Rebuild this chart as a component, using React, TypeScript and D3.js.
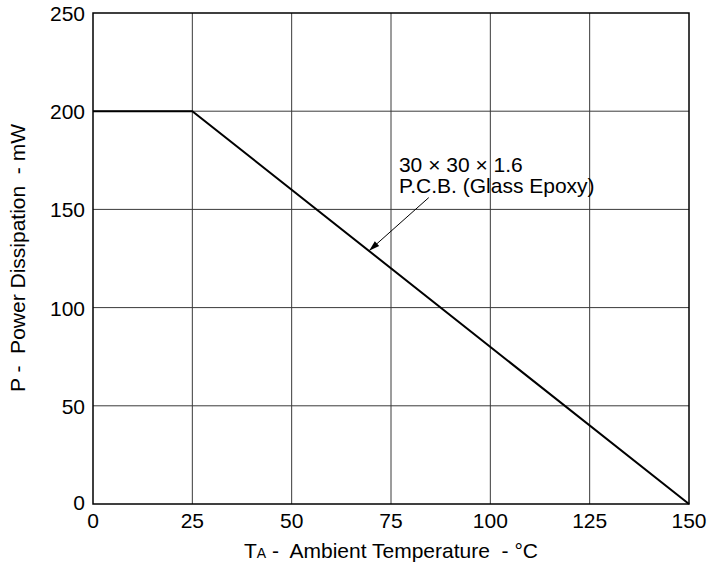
import React, { useEffect, useRef } from 'react'
import * as d3 from 'd3'

const tempPoints = [0, 25, 150]
const powerPoints = [200, 200, 0]
const xTicks = [0, 25, 50, 75, 100, 125, 150]
const yTicks = [0, 50, 100, 150, 200, 250]
const noteLines = ['30 × 30 × 1.6', 'P.C.B. (Glass Epoxy)']
const arrowFrom = { x: 84.5, y: 156 }
const arrowTo = { x: 69.5, y: 129 }

export default function App() {
  const svgRef = useRef<SVGSVGElement>(null)
  const width = 710
  const height = 577

  useEffect(() => {
    if (!svgRef.current) return
    const svg = d3.select(svgRef.current)
    svg.selectAll('*').remove()

    const margin = { top: 13, right: 21, bottom: 73, left: 93 }
    const chartWidth = width - margin.left - margin.right
    const chartHeight = height - margin.top - margin.bottom
    const font = 'Arial, "Liberation Sans", Helvetica, sans-serif'
    const fs = '21px'

    const g = svg.append('g').attr('transform', `translate(${margin.left},${margin.top})`)

    const x = d3.scaleLinear().domain([0, 150]).range([0, chartWidth])
    const y = d3.scaleLinear().domain([0, 250]).range([chartHeight, 0])

    // grid
    g.selectAll('.gx')
      .data(xTicks.slice(1, -1))
      .enter()
      .append('line')
      .attr('x1', d => x(d))
      .attr('x2', d => x(d))
      .attr('y1', 0)
      .attr('y2', chartHeight)
      .attr('stroke', '#3a3a3a')
      .attr('stroke-width', 1)
    g.selectAll('.gy')
      .data(yTicks.slice(1, -1))
      .enter()
      .append('line')
      .attr('x1', 0)
      .attr('x2', chartWidth)
      .attr('y1', d => y(d))
      .attr('y2', d => y(d))
      .attr('stroke', '#3a3a3a')
      .attr('stroke-width', 1)

    // frame
    g.append('rect')
      .attr('width', chartWidth)
      .attr('height', chartHeight)
      .attr('fill', 'none')
      .attr('stroke', '#000')
      .attr('stroke-width', 1.5)

    // tick labels
    g.selectAll('.xt')
      .data(xTicks)
      .enter()
      .append('text')
      .attr('x', d => x(d))
      .attr('y', chartHeight + 24)
      .attr('text-anchor', 'middle')
      .style('font-family', font)
      .style('font-size', fs)
      .text(d => d)
    g.selectAll('.yt')
      .data(yTicks)
      .enter()
      .append('text')
      .attr('x', -8)
      .attr('y', d => y(d) + (d === 0 ? 6 : 8))
      .attr('text-anchor', 'end')
      .style('font-family', font)
      .style('font-size', fs)
      .text(d => d)

    // curve
    const pts = tempPoints.map((t, i) => [t, powerPoints[i]] as [number, number])
    g.append('path')
      .datum(pts)
      .attr('d', d3.line<[number, number]>().x(d => x(d[0])).y(d => y(d[1])))
      .attr('fill', 'none')
      .attr('stroke', '#000')
      .attr('stroke-width', 2)

    // annotation
    const note = g.append('text')
      .style('font-family', font)
      .style('font-size', fs)
    noteLines.forEach((line, i) => {
      note.append('tspan')
        .attr('x', x(77))
        .attr('y', y(200) + 61 + i * 21)
        .text(line)
    })

    const ax1 = x(arrowFrom.x), ay1 = y(arrowFrom.y)
    const ax2 = x(arrowTo.x), ay2 = y(arrowTo.y)
    g.append('line')
      .attr('x1', ax1).attr('y1', ay1)
      .attr('x2', ax2).attr('y2', ay2)
      .attr('stroke', '#000')
      .attr('stroke-width', 1)
    const ang = Math.atan2(ay2 - ay1, ax2 - ax1)
    const len = 11, spread = 0.3
    g.append('path')
      .attr('d', `M${ax2},${ay2}L${ax2 - len * Math.cos(ang - spread)},${ay2 - len * Math.sin(ang - spread)}L${ax2 - len * Math.cos(ang + spread)},${ay2 - len * Math.sin(ang + spread)}Z`)
      .attr('fill', '#000')

    // axis titles
    const xt = svg.append('text')
      .attr('x', margin.left + chartWidth / 2)
      .attr('y', 558)
      .attr('text-anchor', 'middle')
      .style('font-family', font)
      .style('font-size', fs)
      .style('white-space', 'pre')
    xt.append('tspan').text('T')
    xt.append('tspan').style('font-size', '14px').text('A')
    xt.append('tspan').text(' -  Ambient Temperature  - °C')

    svg.append('text')
      .attr('transform', `translate(25,${258}) rotate(-90)`)
      .attr('text-anchor', 'middle')
      .style('font-family', font)
      .style('font-size', fs)
      .style('white-space', 'pre')
      .text('P -  Power Dissipation  - mW')
  }, [])

  return (
    <svg ref={svgRef} width={width} height={height} style={{ position: 'absolute', left: 0, top: 0, background: '#fff' }} />
  )
}
